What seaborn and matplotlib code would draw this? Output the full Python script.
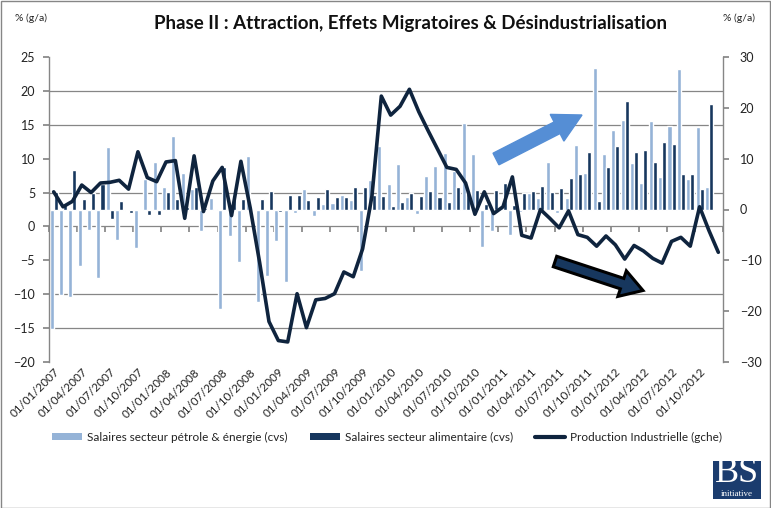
import numpy as np
import pandas as pd
import matplotlib
matplotlib.use("Agg")
import matplotlib.pyplot as plt
import seaborn as sns
from matplotlib.patches import Patch, Rectangle, FancyArrow
from matplotlib.lines import Line2D
from matplotlib.ticker import FixedLocator
from matplotlib.transforms import IdentityTransform

# ---------------- data ----------------
dates = pd.date_range("2007-01-01", periods=72, freq="MS").strftime("%d/%m/%Y").tolist()

petrole = [-23.4, -16.7, -17.2, -11.1, -4.0, -13.5, 12.2, -5.9, -0.3, -7.5, 6.0, 9.4,
           4.5, 14.5, 7.1, 4.1, -4.2, 2.3, -19.5, -5.2, -10.3, 10.6, -18.2, -13.1,
           -6.2, -14.2, -0.7, 4.1, -1.3, 1.0, 1.2, 2.9, 1.8, -12.1, 5.7, 12.5,
           5.1, 9.0, 2.4, -0.8, 6.5, 8.6, 11.1, 7.6, 17.0, 10.9, -7.4, -4.2,
           0.4, -5.1, -0.5, 3.2, 2.2, 9.3, -0.7, 2.2, 12.7, 7.1, 27.8, 10.8,
           15.6, 17.5, 9.2, 5.3, 17.3, 6.3, 16.3, 27.5, 5.9, 16.1, 4.5, np.nan]

alimentaire = [3.4, 0.8, 7.8, 2.0, 3.3, 5.0, -1.8, 1.6, -0.65, -0.1, -1.0, -1.0,
               3.4, 2.1, 0.5, 4.4, 0.3, 0.1, 8.3, 2.1, 2.0, -0.1, 2.1, 3.7,
               -0.5, 2.9, 2.9, 1.8, 2.5, 4.1, 2.4, 2.4, 4.5, 4.5, 2.9, 2.7,
               0.6, 1.4, 3.2, 2.6, 3.7, 2.4, 1.4, 4.4, 3.3, 3.9, 1.1, 3.9,
               5.2, 0.9, 3.2, 3.7, 4.7, 3.5, 4.2, 6.1, 6.9, 11.2, 1.6, 8.3,
               12.4, 21.4, 11.2, 11.6, 9.4, 13.2, 12.8, 6.9, 6.9, 4.1, 20.8, np.nan]

production = [5.1, 2.9, 3.7, 6.1, 5.0, 6.4, 6.5, 6.8, 5.5, 11.0, 7.2, 6.6,
              9.5, 9.7, 1.2, 10.4, 2.2, 6.7, 8.7, 1.6, 9.6, 2.7, -5.3, -14.0,
              -16.8, -17.0, -9.9, -14.9, -10.8, -10.6, -9.9, -6.7, -7.4, -3.3, 4.5, 19.2,
              16.4, 17.7, 20.2, 16.9, 14.1, 11.4, 8.7, 8.4, 6.4, 1.8, 5.1, 1.9,
              2.9, 7.3, -1.3, -1.7, 2.5, 1.2, -0.2, 2.3, -1.2, -1.6, -2.9, -1.4,
              -2.7, -4.8, -2.8, -3.6, -4.7, -5.4, -2.2, -1.6, -2.9, 2.9, -0.6, -3.8]

name_pet = "Salaires secteur pétrole & énergie (cvs)"
name_ali = "Salaires secteur alimentaire (cvs)"
name_prod = "Production Industrielle (gche)"
title = "Phase II : Attraction, Effets Migratoires & Désindustrialisation"

left_ticks = list(range(-20, 30, 5))
right_ticks = list(range(-30, 40, 10))

# ---------------- style ----------------
sns.set_theme(style="white")
plt.rcParams["font.family"] = ["Lato", "DejaVu Sans"]

light = "#95B3D7"
dark = "#17375E"
linec = "#0F243E"
gray = "#868686"
txt = "#222222"

W, H = 771, 508
fig = plt.figure(figsize=(W / 100, H / 100), dpi=100)
ax = fig.add_axes([49 / W, 1 - 362.3 / H, (723 - 49) / W, (362.3 - 56.7) / H])
ax2 = ax.twinx()

df = pd.DataFrame({
    "date": dates * 2,
    "val": petrole + alimentaire,
    "serie": [name_pet] * len(dates) + [name_ali] * len(dates),
})
sns.barplot(data=df, x="date", y="val", hue="serie", order=dates,
            hue_order=[name_pet, name_ali], palette=[light, dark],
            saturation=1, width=0.86, errorbar=None, legend=False, ax=ax)

sns.lineplot(x=np.arange(len(production)), y=production, ax=ax2, color=linec,
             lw=2.6, legend=False)

# bar axis (right scale)
ax.set_ylim(-30, 30)
ax.set_yticks(right_ticks)
ax.yaxis.set_ticks_position("right")
ax.yaxis.set_label_position("right")
ax.tick_params(axis="y", which="major", right=True, left=False, labelright=True,
               labelleft=False, length=4, color=gray, labelsize=9, pad=8,
               labelcolor=txt)
grid_pos = [-30 + (v + 20) * 60 / 45 for v in left_ticks]
ax.yaxis.set_minor_locator(FixedLocator(grid_pos))
ax.tick_params(axis="y", which="minor", length=0, left=False, right=False)
ax.grid(False)
ax.grid(which="minor", axis="y", color=gray, lw=0.9)
ax.set_axisbelow(True)
ax.set_xlabel("")
ax.set_ylabel("")
for s in ["top", "bottom"]:
    ax.spines[s].set_visible(False)
for s in ["left", "right"]:
    ax.spines[s].set_color(gray)
    ax.spines[s].set_linewidth(1)

ax.set_xticks(range(0, 72, 3))
ax.set_xticklabels(dates[::3], rotation=45, ha="right", rotation_mode="anchor",
                   fontsize=8.4, color=txt)
ax.tick_params(axis="x", length=0, pad=3)

# line axis (left scale)
ax2.set_ylim(-20, 25)
ax2.set_yticks(left_ticks)
ax2.yaxis.set_ticks_position("left")
ax2.tick_params(axis="y", left=True, right=False, labelleft=True, labelright=False,
                length=4, color=gray, labelsize=9, pad=6, labelcolor=txt)
ax2.set_ylabel("")
for s in ax2.spines.values():
    s.set_visible(False)
ax2.grid(False)
ax.set_xlim(-0.5, 71.5)

# category axis ticks on the left-scale zero line
sec = ax.secondary_xaxis(20 / 45)
sec.set_xticks(np.arange(-0.5, 72, 3))
sec.set_alignment("bottom")
sec.tick_params(axis="x", length=4, color=gray, labelbottom=False, labeltop=False,
                direction="out")
sec.spines["bottom"].set_visible(False)
sec.spines["top"].set_visible(False)

# ---------------- annotations ----------------
px = IdentityTransform()
fig.add_artist(FancyArrow(496, H - 159, 86, 44, width=13, head_width=30, head_length=28,
                          length_includes_head=True, color="#558ED5", transform=px))
fig.add_artist(FancyArrow(555, H - 261.5, 88, -29, width=11, head_width=27, head_length=22,
                          length_includes_head=True, fc=dark, ec="black", lw=2.2,
                          transform=px))

fig.text(411 / W, 1 - 23 / H, title, ha="center", va="center", fontsize=13.5,
         fontweight="bold", color="#111111")
fig.text(31 / W, 1 - 18 / H, "% (g/a)", ha="center", va="center", fontsize=7.5,
         color=txt)
fig.text(739 / W, 1 - 18 / H, "% (g/a)", ha="center", va="center", fontsize=7.5,
         color=txt)

# legend
items = [
    (Patch(facecolor=light, edgecolor="none"), name_pet, 52),
    (Patch(facecolor=dark, edgecolor="none"), name_ali, 310),
    (Line2D([], [], color=linec, lw=3), name_prod, 535),
]
for h, lab, x0 in items:
    fig.legend(handles=[h], labels=[lab], loc="center left",
               bbox_to_anchor=(x0 / W, 1 - 437 / H), frameon=False, fontsize=8.5,
               borderpad=0, borderaxespad=0, handlelength=2.55, handleheight=0.5,
               handletextpad=0.45, labelcolor=txt)

# logo
fig.add_artist(Rectangle((713, H - 499), 48, 38, transform=px, fc="#1B3C6E", ec="none"))
fig.text(737 / W, 1 - 474 / H, "BS", ha="center", va="center", fontsize=26,
         family="Liberation Serif", color="white")
fig.text(737 / W, 1 - 493.5 / H, "initiative", ha="center", va="center", fontsize=6.5,
         family="Liberation Serif", color="white")

# outer border
fig.add_artist(Rectangle((0.5, 0.5), W - 1.5, H - 1.5, transform=px, fill=False,
                         ec=gray, lw=1))

fig.savefig("out.png", dpi=100)
